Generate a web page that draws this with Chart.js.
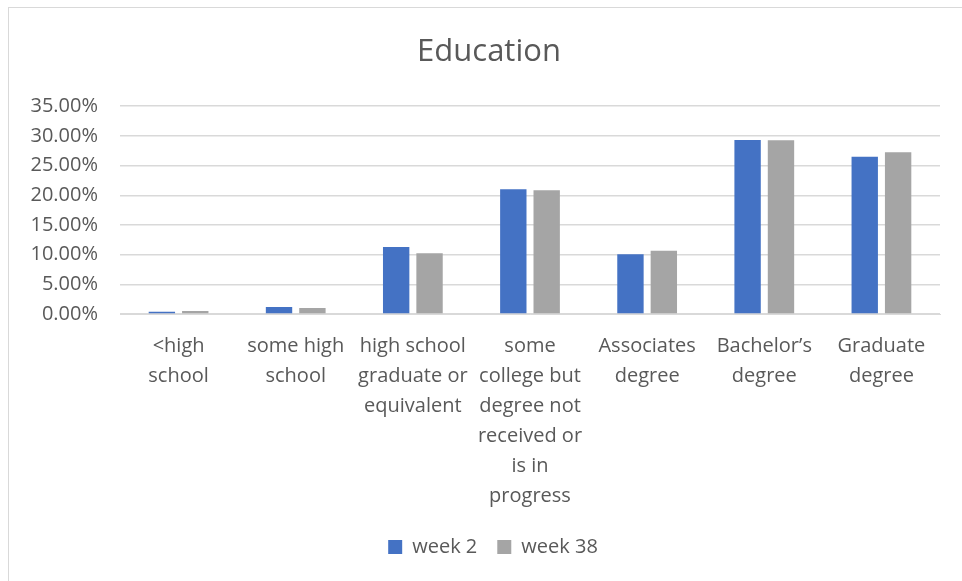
<!DOCTYPE html>
<html>
<head>
<meta charset="utf-8">
<script src="https://cdn.jsdelivr.net/npm/chart.js@4"></script>
<style>
    html, body { margin: 0; padding: 0; background: #fff; }
    #wrap {
        position: absolute; left: 0; top: 0; width: 962px; height: 581px;
    }
    #frame {
        position: absolute; left: 8px; top: 7px; width: 960px; height: 580px;
        border-left: 1px solid #d9d9d9; border-top: 1px solid #d9d9d9;
    }
</style>
</head>
<body>
<div id="wrap">
    <div id="frame"></div>
    <canvas id="eduChart" width="962" height="581"></canvas>
</div>
<script>
const categories = [
    ["<high", "school"],
    ["some high", "school"],
    ["high school", "graduate or", "equivalent"],
    ["some", "college but", "degree not", "received or", "is in", "progress"],
    ["Associates", "degree"],
    ["Bachelor\u2019s", "degree"],
    ["Graduate", "degree"],
];
const week2 = [0.4, 1.2, 11.3, 21.0, 10.05, 29.3, 26.5];
const week38 = [0.5, 1.0, 10.25, 20.85, 10.65, 29.25, 27.25];
const yTicks = [0, 5, 10, 15, 20, 25, 30, 35];

const textColor = "#595959";
const font = "'Open Sans', 'Liberation Sans', sans-serif";

// nudge title and legend to the right, the original centres them on the plot
const shiftBlocks = {
    id: "shiftBlocks",
    afterLayout(chart) {
        const t = chart.titleBlock;
        t.left += 15;
        t.right += 15;
        const l = chart.legend;
        l.left += 19;
        l.right += 19;
    },
};

document.addEventListener("DOMContentLoaded", () => {
    const ctx = document.getElementById("eduChart").getContext("2d");
    new Chart(ctx, {
        type: "bar",
        data: {
            labels: categories,
            datasets: [
                {
                    label: "week 2",
                    data: week2,
                    backgroundColor: "#4472C4",
                    categoryPercentage: 0.57,
                    barPercentage: 0.79,
                },
                {
                    label: "week 38",
                    data: week38,
                    backgroundColor: "#A5A5A5",
                    categoryPercentage: 0.57,
                    barPercentage: 0.79,
                },
            ],
        },
        plugins: [shiftBlocks],
        options: {
            responsive: false,
            animation: false,
            layout: { padding: { left: 8, right: 22, top: 0, bottom: 14 } },
            plugins: {
                title: {
                    display: true,
                    text: "Education",
                    color: textColor,
                    font: { family: font, size: 31, weight: "normal" },
                    padding: { top: 34, bottom: 35 },
                },
                legend: {
                    position: "bottom",
                    labels: {
                        color: textColor,
                        font: { family: font, size: 20 },
                        boxWidth: 14,
                        boxHeight: 14,
                        padding: 20,
                    },
                },
                tooltip: { enabled: false },
            },
            scales: {
                x: {
                    grid: { display: false, drawTicks: false },
                    border: { color: "#d9d9d9" },
                    ticks: {
                        color: textColor,
                        font: { family: font, size: 20, lineHeight: 1.5 },
                        maxRotation: 0,
                        autoSkip: false,
                        padding: 17,
                    },
                    afterFit: (axis) => { axis.height = 203; },
                },
                y: {
                    min: 0,
                    max: 35,
                    afterBuildTicks: (axis) => {
                        axis.ticks = yTicks.map((v) => ({ value: v }));
                    },
                    grid: { color: "#d9d9d9", lineWidth: 1.5, drawTicks: false },
                    border: { display: false },
                    ticks: {
                        color: textColor,
                        font: { family: font, size: 20 },
                        padding: 22,
                        callback: (value) => value.toFixed(2) + "%",
                    },
                    afterFit: (axis) => { axis.width = 112; },
                },
            },
        },
    });
});
</script>
</body>
</html>
